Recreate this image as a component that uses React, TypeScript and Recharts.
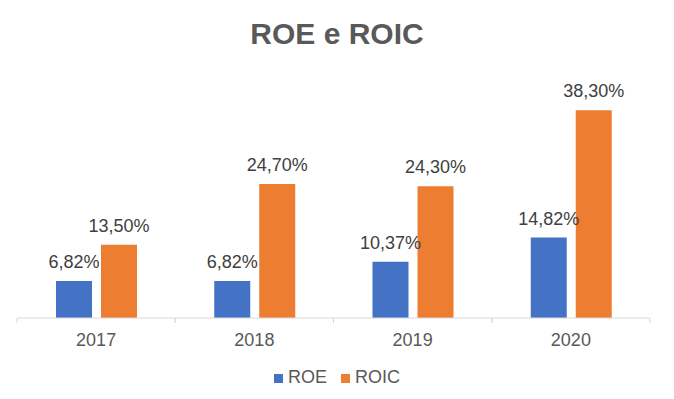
import React from "react";
import { BarChart, Bar, XAxis, YAxis, LabelList, Legend } from "recharts";

const years = ["2017", "2018", "2019", "2020"];
const roe = [6.82, 6.82, 10.37, 14.82];
const roic = [13.5, 24.7, 24.3, 38.3];
const seriesNames = ["ROE", "ROIC"];
const colors = ["#4472C4", "#ED7D31"];

const data = years.map((y, i) => ({ year: y, ROE: roe[i], ROIC: roic[i] }));

const W = 674;
const H = 399;
const M = { top: 75, right: 24, bottom: 51, left: 17 };
const band = (W - M.left - M.right) / years.length;
const FONT = "'Liberation Sans', Arial, sans-serif";

const fmt = (v: number) => v.toFixed(2).replace(".", ",") + "%";

const Tick = (props: any) => {
  const { x, y, payload } = props;
  return (
    <g>
      <line x1={x - band / 2} x2={x - band / 2} y1={y} y2={y + 5} stroke="#D9D9D9" />
      <line x1={x + band / 2} x2={x + band / 2} y1={y} y2={y + 5} stroke="#D9D9D9" />
      <text x={x} y={y + 28} textAnchor="middle" fill="#595959" fontSize={18} fontFamily={FONT}>
        {payload.value}
      </text>
    </g>
  );
};

const LegendContent = () => (
  <div
    style={{
      display: "flex",
      justifyContent: "center",
      alignItems: "flex-start",
      fontFamily: FONT,
      fontSize: 18,
      lineHeight: "18px",
      color: "#595959",
    }}
  >
    {seriesNames.map((n, i) => (
      <div key={n} style={{ display: "flex", alignItems: "flex-start", marginRight: i === 0 ? 14 : 0 }}>
        <div style={{ width: 9, height: 9, background: colors[i], marginTop: 6, marginRight: 5 }} />
        <span>{n}</span>
      </div>
    ))}
  </div>
);

export default function App() {
  return (
    <div style={{ position: "absolute", left: 0, top: 0, width: W, height: H, background: "#fff" }}>
      <div
        style={{
          position: "absolute",
          left: 0,
          top: 19,
          width: W,
          textAlign: "center",
          fontFamily: FONT,
          fontWeight: "bold",
          fontSize: 30,
          lineHeight: "30px",
          color: "#595959",
        }}
      >
        ROE e ROIC
      </div>
      <BarChart width={W} height={H} data={data} margin={M} barGap={9} barSize={36}>
        <XAxis
          dataKey="year"
          height={30}
          axisLine={{ stroke: "#D9D9D9" }}
          tickLine={false}
          tickSize={0}
          tickMargin={0}
          tick={<Tick />}
          interval={0}
        />
        <YAxis hide domain={[0, 44.8]} />
        <Legend
          verticalAlign="middle"
          align="center"
          layout="horizontal"
          content={<LegendContent />}
          wrapperStyle={{ position: "absolute", top: 368, left: 0, width: W }}
        />
        <Bar dataKey="ROE" fill={colors[0]} isAnimationActive={false}>
          <LabelList
            dataKey="ROE"
            position="top"
            offset={13}
            formatter={(v: any) => fmt(Number(v))}
            fill="#404040"
            fontSize={18}
            fontFamily={FONT}
          />
        </Bar>
        <Bar dataKey="ROIC" fill={colors[1]} isAnimationActive={false}>
          <LabelList
            dataKey="ROIC"
            position="top"
            offset={13}
            formatter={(v: any) => fmt(Number(v))}
            fill="#404040"
            fontSize={18}
            fontFamily={FONT}
          />
        </Bar>
      </BarChart>
    </div>
  );
}
